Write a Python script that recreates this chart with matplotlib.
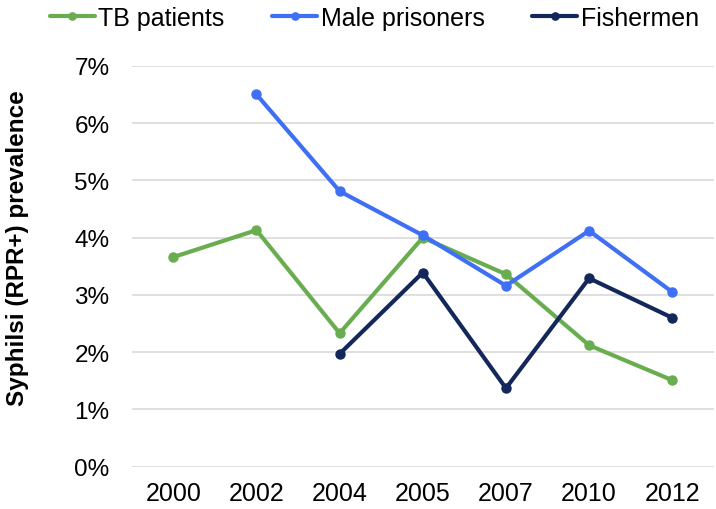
import matplotlib
matplotlib.use("Agg")
import matplotlib.pyplot as plt
from matplotlib.ticker import PercentFormatter

plt.rcParams['font.family'] = ['Liberation Sans', 'DejaVu Sans']

years = ['2000', '2002', '2004', '2005', '2007', '2010', '2012']
tb_patients = [0.0366, 0.0413, 0.0233, 0.0400, 0.0336, 0.0212, 0.0151]
male_prisoners = [None, 0.0650, 0.0481, 0.0404, 0.0316, 0.0412, 0.0305]
fishermen = [None, None, 0.0197, 0.0339, 0.0137, 0.0329, 0.0260]

series = [
    ('TB patients', tb_patients, '#6aad50'),
    ('Male prisoners', male_prisoners, '#3f6ff4'),
    ('Fishermen', fishermen, '#13275a'),
]

fig = plt.figure(figsize=(7.16, 5.10), dpi=100)
ax = fig.add_axes([0.184, 0.083, 0.813, 0.786])

x = list(range(len(years)))
for name, vals, color in series:
    xs = [i for i, v in zip(x, vals) if v is not None]
    ys = [v for v in vals if v is not None]
    ax.plot(xs, ys, color=color, linewidth=3, marker='o', markersize=6.5,
            label=name, solid_capstyle='round', zorder=3)

ax.set_xlim(-0.5, len(years) - 0.5)
ax.set_ylim(0, 0.07)
ax.set_yticks([i / 100 for i in range(8)])
ax.yaxis.set_major_formatter(PercentFormatter(1, decimals=0))
ax.set_xticks(x)
ax.set_xticklabels(years)
ax.tick_params(axis='x', length=0, labelsize=18, pad=10)
ax.tick_params(axis='y', length=0, labelsize=17.5, pad=16)
ax.grid(axis='y', color='#d9d9d9', linewidth=1.2)
ax.set_axisbelow(True)
for s in ax.spines.values():
    s.set_visible(False)

ax.set_ylabel('Syphilsi (RPR+) prevalence', fontsize=17.5, fontweight='bold')
ax.yaxis.set_label_coords(-0.176, 0.548)

fig.legend(loc='upper center', bbox_to_anchor=(0.523, 1.03), ncol=3, frameon=False,
           fontsize=18, handlelength=1.8, handletextpad=0.15, columnspacing=1.9,
           markerscale=0.8)

fig.savefig('out.png', dpi=100)
